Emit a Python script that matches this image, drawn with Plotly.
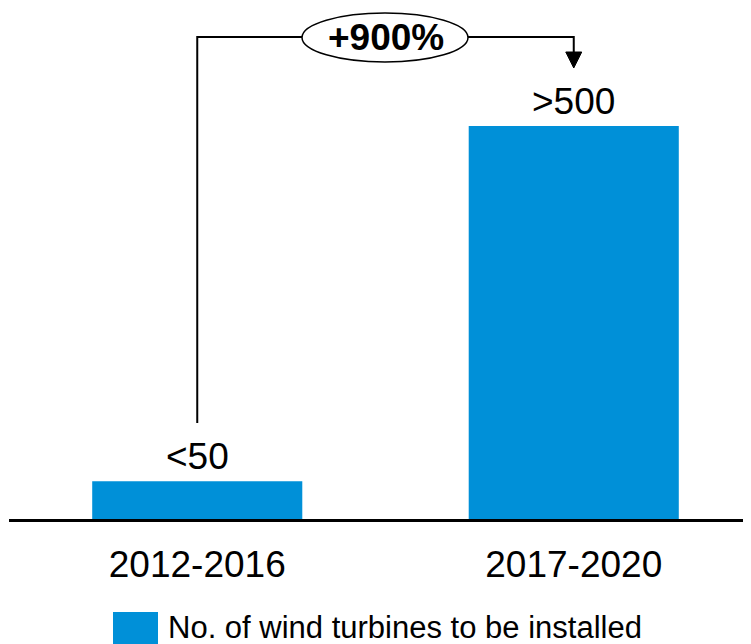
import plotly.graph_objects as go

categories = ["2012-2016", "2017-2020"]
values = [48, 500]
value_labels = ["<50", ">500"]
series_name = "No. of wind turbines to be installed"
growth_label = "+900%"

BLUE = "#0090D8"
FONT = "Liberation Sans, Arial, sans-serif"

OFF = 8  # page body margin in the browser
W, H = 751 - OFF, 644 - OFF
ML, MR, MT, MB = 1, 0, 0, 125
YMAX = 660
plot_h = H - MT - MB
plot_w = W - ML - MR
spacing = 376.5  # px per category


# helpers: take coordinates measured in the reference picture
def ypx_to_val(py):
    return (H - MB - (py - OFF)) * YMAX / plot_h


def xpx_to_val(px):
    return ((px - OFF) - (ML + 0.5 * spacing)) / spacing


def xpx_to_paper(px):
    return ((px - OFF) - ML) / plot_w


def ypx_to_paper(py):
    return (H - MB - (py - OFF)) / plot_h


YMAX = 500 * plot_h / 393  # 500 units span 393 px in the reference

fig = go.Figure()
fig.add_trace(go.Bar(
    x=list(range(len(categories))), y=values, name=series_name,
    marker=dict(color=BLUE, line=dict(width=0)), width=0.558,
    showlegend=False, hoverinfo="skip",
))

annotations = []
for i, (v, lab) in enumerate(zip(values, value_labels)):
    annotations.append(dict(x=i, y=v, text=lab, showarrow=False, xref="x", yref="y",
                            yanchor="bottom", yshift=2,
                            font=dict(family=FONT, size=37, color="#000")))

# connector
y_top = ypx_to_val(37)
y_left_bottom = ypx_to_val(423)
y_arrow_base = ypx_to_val(52)
y_arrow_tip = ypx_to_val(68)
shapes = [
    dict(type="path", xref="x", yref="y",
         path=f"M 0,{y_left_bottom} L 0,{y_top} L 1,{y_top} L 1,{y_arrow_base}",
         line=dict(color="#000", width=2)),
    dict(type="path", xref="x", yref="y", xsizemode="pixel", ysizemode="pixel",
         xanchor=1, yanchor=y_arrow_tip,
         path="M -8,16 L 8,16 L 0,0 Z", fillcolor="#000", line=dict(color="#000", width=1)),
    dict(type="circle", xref="x", yref="y",
         x0=xpx_to_val(302), x1=xpx_to_val(468), y0=ypx_to_val(62), y1=ypx_to_val(13),
         fillcolor="white", line=dict(color="#000", width=1.5)),
    # legend swatch
    dict(type="rect", xref="paper", yref="paper",
         x0=xpx_to_paper(113), x1=xpx_to_paper(158), y0=ypx_to_paper(612), y1=ypx_to_paper(650),
         fillcolor=BLUE, line=dict(width=0)),
]
annotations.append(dict(x=0.5, y=y_top, xref="x", yref="y", text=f"<b>{growth_label}</b>",
                        showarrow=False, xanchor="center", yanchor="middle",
                        font=dict(family=FONT, size=37, color="#000")))
annotations.append(dict(x=xpx_to_paper(166), y=ypx_to_paper(627), xref="paper", yref="paper",
                        text=series_name, showarrow=False, xanchor="left", yanchor="middle",
                        font=dict(family=FONT, size=31, color="#000")))

fig.update_layout(
    width=W, height=H,
    margin=dict(l=ML, r=MR, t=MT, b=MB, pad=0),
    paper_bgcolor="white", plot_bgcolor="white",
    shapes=shapes, annotations=annotations,
    xaxis=dict(range=[-0.5, -0.5 + plot_w / spacing], tickmode="array",
               tickvals=list(range(len(categories))), ticktext=categories,
               showline=True, linecolor="#000", linewidth=3, showgrid=False, zeroline=False,
               ticks="", ticklabelstandoff=11,
               tickfont=dict(family=FONT, size=37, color="#000")),
    yaxis=dict(range=[0, YMAX], visible=False, showgrid=False, zeroline=False),
)

fig.write_html("out.html")
